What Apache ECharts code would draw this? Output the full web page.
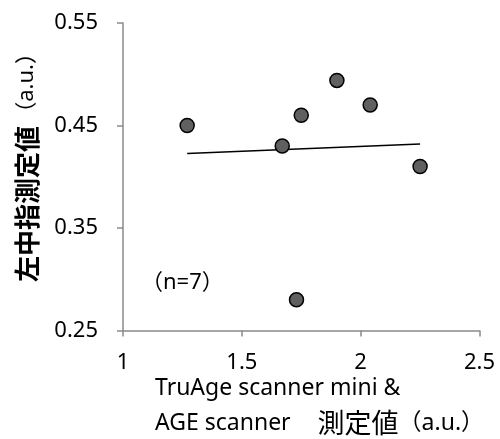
<!DOCTYPE html>
<html>
<head>
<meta charset="utf-8">
<script src="https://cdn.jsdelivr.net/npm/echarts@6/dist/echarts.min.js"></script>
<style>html,body{margin:0;padding:0;background:#fff}#c{width:500px;height:439px}</style>
</head>
<body>
<div id="c"></div>
<script>
const xValues = [1.27, 1.67, 1.75, 1.73, 1.90, 2.04, 2.25];
const yValues = [0.450, 0.430, 0.460, 0.280, 0.494, 0.470, 0.410];
const xTicks = [1, 1.5, 2, 2.5];
const yTicks = [0.25, 0.35, 0.45, 0.55];
const nLabel = '（n=7）';
const yTitleMain = '左中指測定値';
const yTitleUnit = '（a.u.）';
const xTitleLine1 = 'TruAge scanner mini &';
const xTitleLine2a = 'AGE scanner';
const xTitleLine2b = '　測定値';
const xTitleLine2c = '（a.u.）';

const FONT = "'Noto Sans', 'Noto Sans CJK JP', sans-serif";
const CJK = "'Noto Sans CJK JP', sans-serif";

// least-squares trend line from the data
const n = xValues.length;
const mx = xValues.reduce((a, b) => a + b, 0) / n;
const my = yValues.reduce((a, b) => a + b, 0) / n;
let sxy = 0, sxx = 0;
for (let i = 0; i < n; i++) { sxy += (xValues[i] - mx) * (yValues[i] - my); sxx += (xValues[i] - mx) ** 2; }
const slope = sxy / sxx, icpt = my - slope * mx;
const xMin = Math.min(...xValues), xMax = Math.max(...xValues);
const trend = [[xMin, icpt + slope * xMin], [xMax, icpt + slope * xMax]];

const chart = echarts.init(document.getElementById('c'));
const axisColor = '#8a8a8a';
chart.setOption({
  animation: false,
  grid: { left: 123, top: 23, right: 20.5, bottom: 108.5, containLabel: false },
  xAxis: {
    type: 'value', min: xTicks[0], max: xTicks[xTicks.length - 1], interval: 0.5,
    splitLine: { show: false },
    axisLine: { show: true, lineStyle: { color: axisColor, width: 1.5 } },
    axisTick: { show: true, inside: false, length: 6, lineStyle: { color: axisColor, width: 1.5 } },
    axisLabel: { margin: 21, color: '#000', fontFamily: FONT, fontSize: 22, formatter: v => String(v) }
  },
  yAxis: {
    type: 'value', min: yTicks[0], max: yTicks[yTicks.length - 1], interval: 0.1,
    splitLine: { show: false },
    axisLine: { show: true, lineStyle: { color: axisColor, width: 1.5 } },
    axisTick: { show: true, inside: false, length: 6, lineStyle: { color: axisColor, width: 1.5 } },
    axisLabel: { margin: 25, color: '#000', fontFamily: FONT, fontSize: 22, formatter: v => v.toFixed(2) }
  },
  series: [
    {
      type: 'line', data: trend, symbol: 'none', silent: true,
      lineStyle: { color: '#000', width: 1.5 }, z: 2
    },
    {
      type: 'scatter', data: xValues.map((x, i) => [x, yValues[i]]),
      symbol: 'circle', symbolSize: 14,
      itemStyle: { color: '#606060', borderColor: '#000', borderWidth: 1.5, opacity: 1 }, z: 3
    }
  ],
  graphic: [
    {
      type: 'text', x: 141, y: 283,
      style: { text: nLabel, font: "22px " + FONT, fill: '#000', verticalAlign: 'middle', align: 'left' }
    },
    {
      type: 'text', x: 155, y: 388,
      style: { text: xTitleLine1, font: "23px " + FONT, fill: '#000', verticalAlign: 'middle', align: 'left' }
    },
    {
      type: 'text', x: 155, y: 423,
      style: {
        text: '{a|' + xTitleLine2a + '}{b|' + xTitleLine2b + '}{c|' + xTitleLine2c + '}',
        verticalAlign: 'middle', align: 'left',
        rich: {
          a: { fontFamily: FONT, fontSize: 23, fill: '#000' },
          b: { fontFamily: CJK, fontSize: 27, fill: '#000' },
          c: { fontFamily: FONT, fontSize: 23, fill: '#000' }
        }
      }
    },
    {
      type: 'text', x: 27, y: 282, rotation: Math.PI / 2,
      style: { text: yTitleMain, font: "bold 26px " + CJK, fill: '#000', verticalAlign: 'middle', align: 'left' }
    },
    {
      type: 'text', x: 27, y: 42, rotation: Math.PI / 2,
      style: { text: yTitleUnit, font: "22px " + FONT, fill: '#000', verticalAlign: 'middle', align: 'right' }
    }
  ]
});
</script>
</body>
</html>
